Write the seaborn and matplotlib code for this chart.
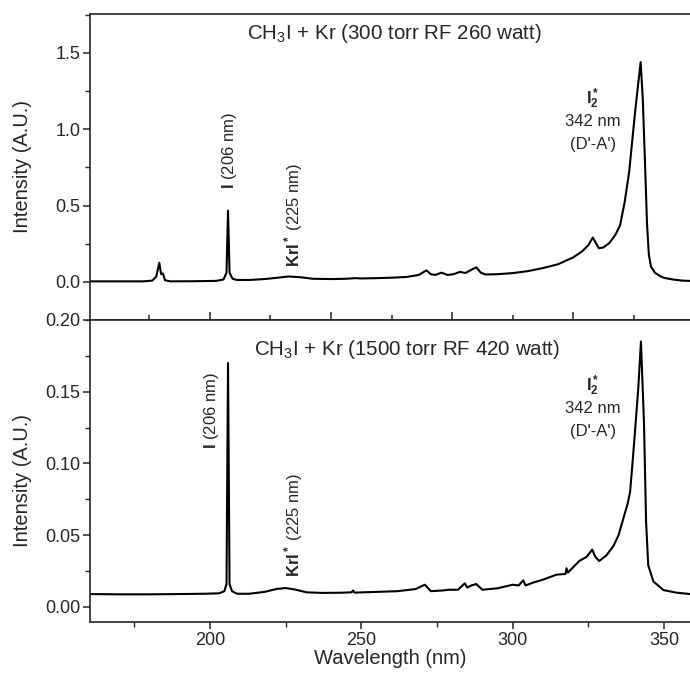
import matplotlib
matplotlib.use("Agg")
import matplotlib.pyplot as plt
import seaborn as sns
import pandas as pd
from matplotlib.ticker import MultipleLocator, FormatStrFormatter

# Spectrum: 300 torr, RF 260 W
wl_top = [160, 170, 178, 181, 182.3, 183.3, 183.9, 184.5, 185.2, 187, 195, 202,
          204.5, 205.5, 206.0, 206.5, 207.5, 209, 213, 218, 222, 226, 230, 234,
          240, 245, 248, 250, 255, 260, 265, 269, 271.5, 273, 274.5, 276.5,
          278.5, 280.5, 282.6, 284.5, 286, 288, 289.5, 291, 295, 300, 305, 310,
          315, 320, 323, 325, 326.5, 328.5, 330, 332, 334, 335.5, 337, 338.5,
          339.5, 340.5, 341.5, 342.3, 343, 343.7, 344.4, 345, 345.7, 347, 348.5,
          350, 353, 356, 358.6]
int_top = [0.003, 0.003, 0.003, 0.008, 0.035, 0.125, 0.05, 0.055, 0.01, 0.003, 0.004, 0.006,
           0.015, 0.06, 0.467, 0.06, 0.02, 0.012, 0.012, 0.018, 0.026, 0.035, 0.03, 0.02,
           0.018, 0.02, 0.024, 0.022, 0.024, 0.027, 0.032, 0.045, 0.075, 0.05, 0.045, 0.06,
           0.045, 0.05, 0.065, 0.058, 0.075, 0.095, 0.06, 0.048, 0.05, 0.057, 0.07, 0.09,
           0.115, 0.16, 0.2, 0.24, 0.29, 0.22, 0.225, 0.255, 0.31, 0.37, 0.52, 0.72,
           0.92, 1.12, 1.3, 1.44, 1.2, 0.8, 0.38, 0.18, 0.1, 0.06, 0.04,
           0.026, 0.015, 0.008, 0.006]

# Spectrum: 1500 torr, RF 420 W
wl_bot = [160, 170, 180, 190, 198, 203, 204.8, 205.5, 206.0, 206.5, 207.3, 209,
          213, 218, 222, 225, 228, 232, 237, 243, 246.8, 247.3, 247.8, 255,
          262, 268, 271, 273, 277, 279, 282, 284.2, 285, 286.4, 288, 290,
          295, 300, 302, 303.5, 304.3, 306.8, 310, 314.5, 317.5, 317.8, 318.3, 322,
          324.5, 326.3, 327.3, 328.6, 331, 333.3, 335, 336.5, 338, 338.8, 339.6, 340.4,
          341.5, 342.4, 343.4, 344.1, 344.8, 346.5, 349.8, 354, 358.6]
int_bot = [0.009, 0.0088, 0.0088, 0.009, 0.0092, 0.0095, 0.011, 0.016, 0.17, 0.016, 0.011, 0.0092,
           0.0092, 0.0105, 0.0125, 0.0132, 0.0122, 0.0102, 0.0098, 0.0099, 0.0102, 0.0115, 0.0100, 0.0105,
           0.011, 0.0125, 0.0155, 0.011, 0.0115, 0.012, 0.012, 0.0165, 0.0135, 0.015, 0.016, 0.012,
           0.013, 0.0155, 0.015, 0.0185, 0.015, 0.017, 0.019, 0.0225, 0.023, 0.027, 0.024, 0.032,
           0.035, 0.04, 0.035, 0.032, 0.036, 0.0425, 0.05, 0.061, 0.072, 0.08, 0.1, 0.1215,
           0.152, 0.185, 0.128, 0.059, 0.029, 0.0178, 0.0118, 0.010, 0.009]

top_title = r"CH$_3$I + Kr (300 torr RF 260 watt)"
bot_title = r"CH$_3$I + Kr (1500 torr RF 420 watt)"

sns.set_style("ticks")
plt.rcParams['font.family'] = ['Liberation Sans', 'DejaVu Sans']
plt.rcParams['mathtext.fontset'] = 'custom'
plt.rcParams['mathtext.rm'] = 'Liberation Sans'
plt.rcParams['mathtext.it'] = 'Liberation Sans:italic'
plt.rcParams['mathtext.bf'] = 'Liberation Sans:bold'

fig = plt.figure(figsize=(6.9, 6.89), dpi=100)
ax1 = fig.add_axes([0.1304, 0.5356, 0.8696, 0.4441])
ax2 = fig.add_axes([0.1304, 0.0972, 0.8696, 0.4384])

df_top = pd.DataFrame({'wl': wl_top, 'I': int_top})
df_bot = pd.DataFrame({'wl': wl_bot, 'I': int_bot})
sns.lineplot(data=df_top, x='wl', y='I', ax=ax1, color='black', lw=1.5, estimator=None)
sns.lineplot(data=df_bot, x='wl', y='I', ax=ax2, color='black', lw=1.5, estimator=None)

for ax in (ax1, ax2):
    ax.set_xlim(160.4, 358.6)
    ax.spines['right'].set_visible(False)
    for s in ('left', 'bottom', 'top'):
        ax.spines[s].set_linewidth(1.2)
    ax.tick_params(axis='y', which='major', direction='out', length=5, width=1.1,
                   labelsize=13, pad=2)
    ax.tick_params(axis='y', which='minor', direction='out', length=3.5, width=1.0)
    ax.set_xlabel('')
    ax.set_ylabel('Intensity (A.U.)', fontsize=14.5)

# top panel (inward ticks every 20 nm, no labels)
ax1.xaxis.set_major_locator(MultipleLocator(40))
ax1.xaxis.set_minor_locator(MultipleLocator(20))
ax1.set_ylim(-0.25, 1.755)
ax1.yaxis.set_major_locator(MultipleLocator(0.5))
ax1.yaxis.set_minor_locator(MultipleLocator(0.25))
ax1.yaxis.set_major_formatter(FormatStrFormatter('%.1f'))
ax1.tick_params(axis='x', which='both', direction='in', labelbottom=False, width=1.1)
ax1.tick_params(axis='x', which='major', length=6)
ax1.tick_params(axis='x', which='minor', length=3.5)
ax1.yaxis.set_label_coords(-0.097, 0.5)

ax1.text(261, 1.63, top_title, ha='center', va='center', fontsize=14.8)
ax1.text(206.6, 0.86, r"$\mathbf{I}$ (206 nm)", rotation=90, ha='center', va='center', fontsize=12)
ax1.text(227.5, 0.44, r"$\mathbf{KrI^*}$ (225 nm)", rotation=90, ha='center', va='center', fontsize=12)
ax1.text(326.5, 1.2, r"$\mathbf{I_2^*}$", ha='center', va='center', fontsize=12)
ax1.text(326.5, 1.05, "342 nm", ha='center', va='center', fontsize=12)
ax1.text(326.5, 0.9, "(D'-A')", ha='center', va='center', fontsize=12)

# bottom panel
ax2.xaxis.set_major_locator(MultipleLocator(50))
ax2.xaxis.set_minor_locator(MultipleLocator(25))
ax2.set_ylim(-0.0105, 0.2)
ax2.yaxis.set_major_locator(MultipleLocator(0.05))
ax2.yaxis.set_minor_locator(MultipleLocator(0.025))
ax2.yaxis.set_major_formatter(FormatStrFormatter('%.2f'))
ax2.tick_params(axis='x', which='major', direction='out', length=5, width=1.1,
                labelsize=13, pad=2)
ax2.tick_params(axis='x', which='minor', direction='out', length=3.5, width=1.0)
ax2.yaxis.set_label_coords(-0.097, 0.47)
ax2.set_xlabel('Wavelength (nm)', fontsize=14.5)
ax2.xaxis.set_label_coords(0.5, -0.09)

ax2.text(265, 0.1796, bot_title, ha='center', va='center', fontsize=14.8)
ax2.text(200.6, 0.137, r"$\mathbf{I}$ (206 nm)", rotation=90, ha='center', va='center', fontsize=12)
ax2.text(227.5, 0.057, r"$\mathbf{KrI^*}$ (225 nm)", rotation=90, ha='center', va='center', fontsize=12)
ax2.text(326.5, 0.154, r"$\mathbf{I_2^*}$", ha='center', va='center', fontsize=12)
ax2.text(326.5, 0.138, "342 nm", ha='center', va='center', fontsize=12)
ax2.text(326.5, 0.122, "(D'-A')", ha='center', va='center', fontsize=12)

fig.savefig('out.png', dpi=100)
